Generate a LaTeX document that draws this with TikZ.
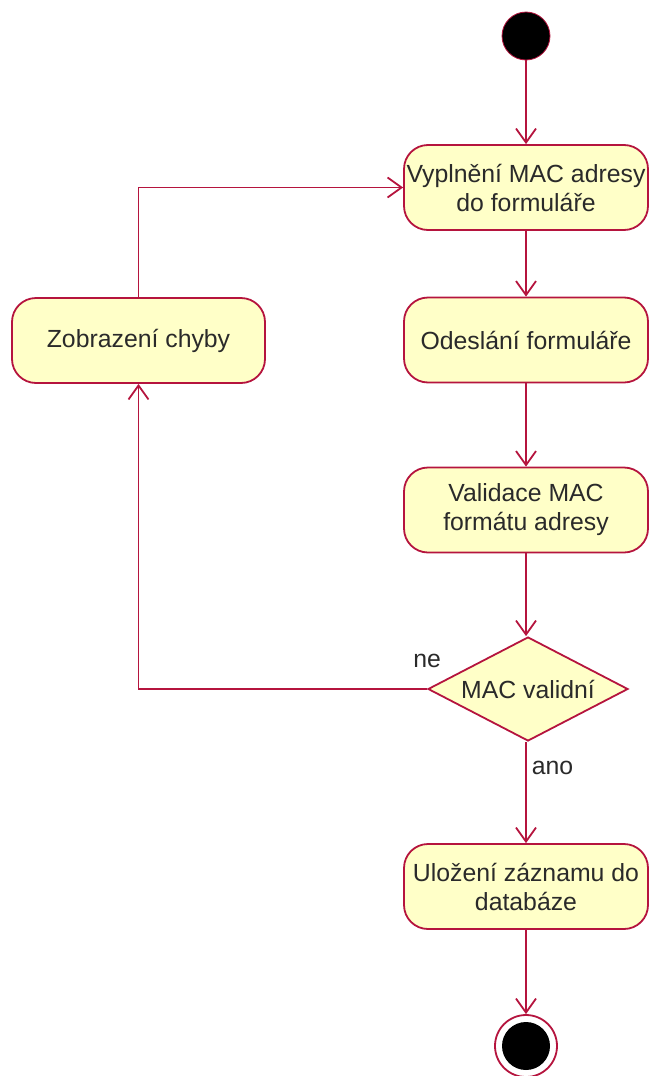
\documentclass[tikz,border=0pt]{standalone}
\usepackage{fontspec}
\setmainfont{Liberation Sans}
\usetikzlibrary{shapes.geometric,arrows.meta}
\definecolor{umlred}{HTML}{B5143E}
\definecolor{umlfill}{HTML}{FFFFC8}
\definecolor{umlink}{HTML}{2A2A2A}

\begin{document}
\begin{tikzpicture}[
    % one unit = one pixel of the page, y runs downwards
    x=0.5pt, y=-0.5pt,
    action/.style={
        draw=umlred,
        fill=umlfill,
        line width=0.9pt,
        rounded corners=12pt,
        minimum width=122pt,
        minimum height=42.5pt,
        inner sep=0pt,
        align=center,
        text=umlink,
        font=\fontsize{12.4}{14.5}\selectfont
    },
    decision/.style={
        diamond,
        aspect=1.9,
        draw=umlred,
        fill=umlfill,
        line width=0.9pt,
        minimum width=100pt,
        minimum height=52pt,
        inner sep=0pt,
        text=umlink,
        font=\fontsize{12.4}{14.5}\selectfont
    },
    initial/.style={circle, draw=umlred, fill=black, minimum size=24pt, inner sep=0pt},
    flow/.style={draw=umlred, line width=0.9pt, -{Straight Barb[length=7pt, width=10pt]}},
    guard/.style={text=umlink, inner sep=0pt, font=\fontsize{12.4}{14.5}\selectfont}
]
    \useasboundingbox (0,0) rectangle (648,1076);

    % --- main column ---
    \node(act-start)[initial] at (526, 36) {};
    \node(act-fill)[action] at (526, 187.5) {Vyplnění MAC adresy\\do formuláře};
    \node(act-send)[action] at (526, 340) {Odeslání formuláře};
    \node(act-check)[action] at (526, 510) {Validace MAC\\formátu adresy};
    \node(act-valid)[decision] at (528, 689) {MAC validní};
    \node(act-save)[action] at (526, 886.5) {Uložení záznamu do\\databáze};

    % final node: ring with a filled disc inside
    \node(act-end)[circle, draw=umlred, fill=white, line width=0.9pt, minimum size=31pt, inner sep=0pt] at (526, 1046) {};
    \node(act-end-in)[circle, fill=black, minimum size=24pt, inner sep=0pt] at (act-end.center) {};

    % --- error branch ---
    \node(act-error)[action, minimum width=126.5pt] at (138.5, 340.5) {Zobrazení chyby};

    % --- flows ---
    \draw[flow] (act-start) -- (act-fill);
    \draw[flow] (act-fill) -- (act-send);
    \draw[flow] (act-send) -- (act-check);
    \draw[flow] (act-check.south) -- (act-check.south |- act-valid.north);
    \draw[flow] (act-valid.south -| act-save.north) -- (act-save.north)
        node(lbl-ano)[guard, pos=0.26, right, xshift=2.5pt] {ano};
    \draw[flow] (act-save) -- (act-end);

    \draw[flow] (act-valid.west) -| (act-error.south)
        node(lbl-ne)[guard, pos=0, anchor=south, yshift=10pt] {ne};
    \draw[flow] (act-error.north) |- (act-fill.west);
\end{tikzpicture}
\end{document}
